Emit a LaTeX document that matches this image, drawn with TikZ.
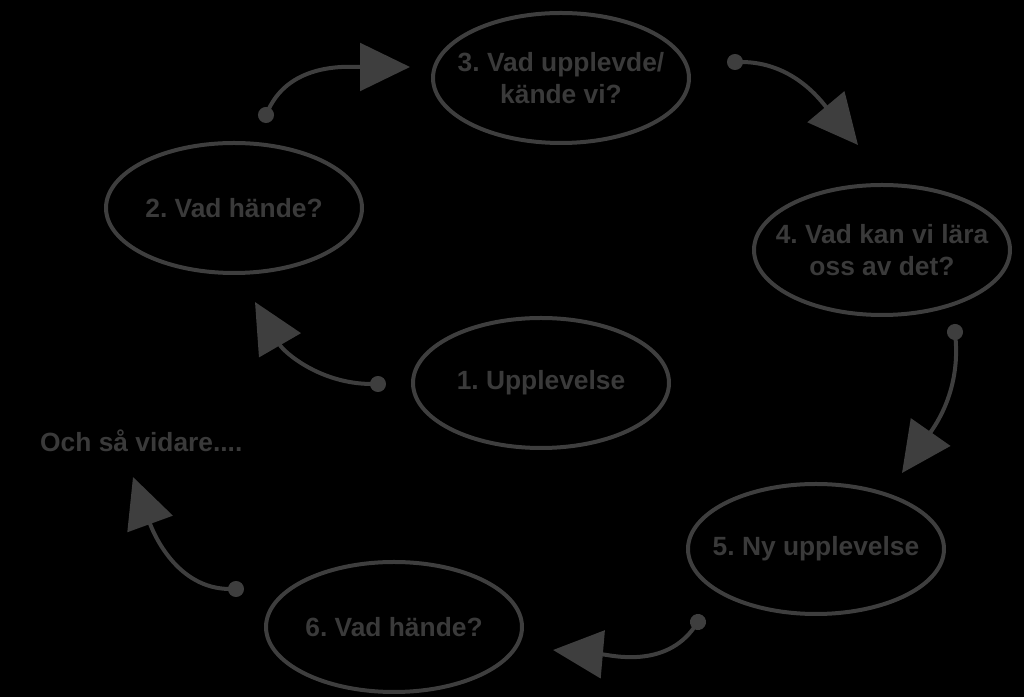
\documentclass[tikz,border=0pt]{standalone}
\usepackage{fontspec}
\setmainfont{Liberation Sans}
\usepackage{xcolor}
\usepackage{tikz}
\usetikzlibrary{shapes.geometric,arrows.meta}
\definecolor{cyclegray}{RGB}{62,62,62}
\definecolor{textgray}{RGB}{58,58,58}
\frenchspacing

\begin{document}
\begin{tikzpicture}[
    stage/.style={ellipse, draw=cyclegray, line width=0.08cm, minimum width=5.12cm, minimum height=2.6cm,
      inner xsep=-0.7cm, inner ysep=0pt, align=center, text=textgray, font=\bfseries\fontsize{15}{18.5}\selectfont},
    flow/.style={draw=cyclegray, line width=0.08cm, shorten <=-0.16cm,
      {Circle[length=0.32cm, fill=cyclegray]}-{Triangle[length=1cm, width=0.95cm, fill=cyclegray]}}
  ]
  % Background
  \fill[black] (0, 0) rectangle (20.48, 13.94);
  \useasboundingbox (0, 0) rectangle (20.48, 13.94);

  % Stages of the cycle
  \node[stage] (upplevelse) at (10.82, 6.28) {1. Upplevelse};
  \node[stage] (hande) at (4.68, 9.78) {2. Vad hände?};
  \node[stage] (kande) at (11.22, 12.38) {3. Vad upplevde/\\kände vi?};
  \node[stage] (lara) at (17.64, 8.94) {4. Vad kan vi lära\\oss av det?};
  \node[stage] (nyupplevelse) at (16.32, 2.96) {5. Ny upplevelse};
  \node[stage] (handeigen) at (7.88, 1.40) {6. Vad hände?};

  % Continuation text
  \node[anchor=west, text=textgray, font=\bfseries\fontsize{15}{18.5}\selectfont] (vidare) at (0.68, 5.12) {Och så vidare....};

  % Ends of the arrows
  \coordinate (a1s) at (5.32, 11.64);  \coordinate (a1e) at (8.2, 12.6);
  \coordinate (a2s) at (14.7, 12.7);   \coordinate (a2e) at (17.16, 11.04);
  \coordinate (a3s) at (19.1, 7.3);    \coordinate (a3e) at (18.04, 4.48);
  \coordinate (a4s) at (13.96, 1.5);   \coordinate (a4e) at (11.06, 0.94);
  \coordinate (a5s) at (4.72, 2.16);   \coordinate (a5e) at (2.66, 4.4);
  \coordinate (a6s) at (7.56, 6.26);   \coordinate (a6e) at (5.1, 7.9);

  % Arrows
  \draw[flow] (a6s) to[out=180, in=-60] (a6e);
  \draw[flow] (a1s) to[out=65, in=180] (a1e);
  \draw[flow] (a2s) to[out=0, in=130] (a2e);
  \draw[flow] (a3s) to[out=-85, in=55] (a3e);
  \draw[flow] (a4s) to[out=-125, in=-5] (a4e);
  \draw[flow] (a5s) to[out=180, in=-70] (a5e);

\end{tikzpicture}
\end{document}
